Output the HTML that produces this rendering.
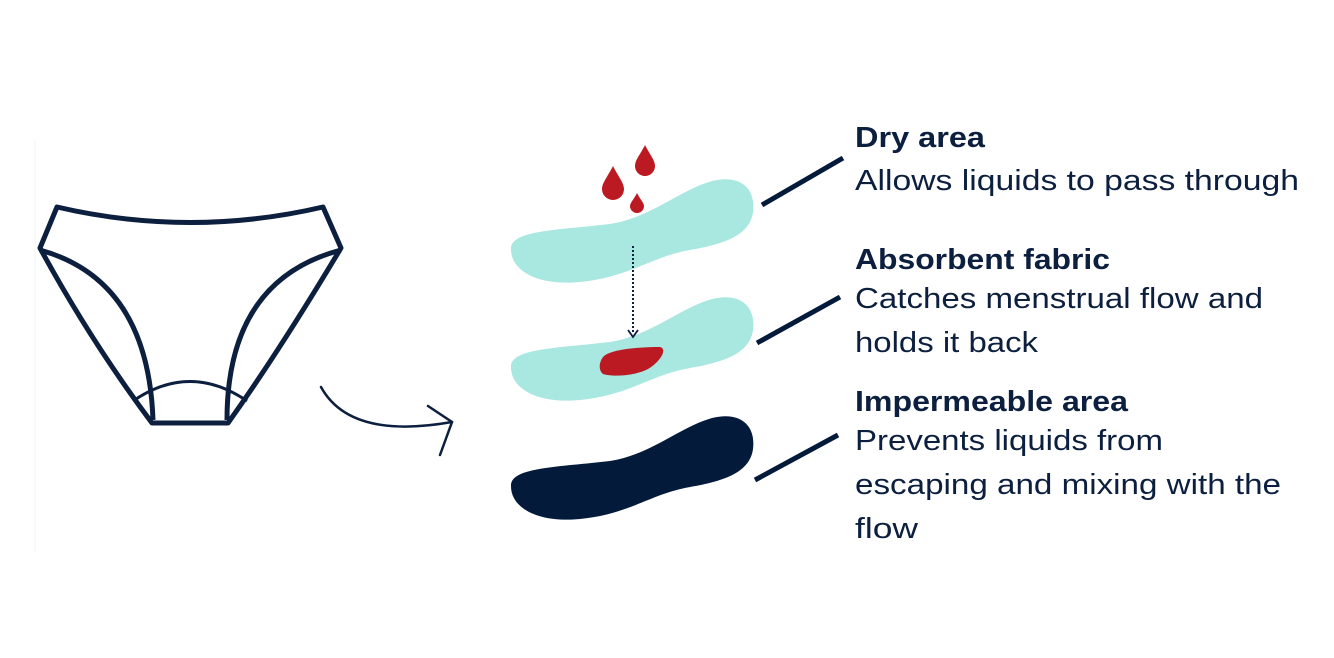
<!DOCTYPE html>
<html><head><meta charset="utf-8"><style>
html,body{margin:0;padding:0;background:#fff;}
svg{display:block}
text{font-family:"Liberation Sans",sans-serif;fill:#0c1f3f;font-size:29px}
.b{font-weight:bold}
</style></head><body>
<svg width="1334" height="658" viewBox="0 0 1334 658" xmlns="http://www.w3.org/2000/svg">
<rect width="1334" height="658" fill="#fff"/>
<line x1="35" y1="140" x2="35" y2="552" stroke="#f3f8f8" stroke-width="1.5"/>
<g fill="none" stroke="#0c1f3f" stroke-width="5" stroke-linejoin="round">
<path d="M57,207 Q190,238 323,207 L341,248 Q280,350 228,423 L152,423 Q90,340 40,248 Z"/>
<path d="M40,250 Q148,280 153,420"/>
<path d="M341,250 Q227,280 227,420"/>
<path d="M133,401 Q190,362 247,401" stroke-width="3"/>
</g>
<g fill="none" stroke="#0c1f3f" stroke-width="2.5" stroke-linecap="round">
<path d="M321,387 Q350,440 452,422"/>
<path d="M428,406 L452,422 L440,455"/>
</g>
<defs>
<path id="pad" d="M511,248 C512,230 560,230 610,224 C650,218 680,190 712,181 C740,174 756,188 753,212 C750,235 725,244 690,250 C650,257 630,277 580,282 C540,286 510,272 511,248 Z"/>
</defs>
<use href="#pad" fill="#a9e7e1"/>
<use href="#pad" fill="#a9e7e1" transform="translate(0,118)"/>
<use href="#pad" fill="#041a3b" transform="translate(0,237)"/>
<path d="M604,356 C612,349 640,347 660,347 C668,349 660,362 648,369 C635,376 612,377 603,374 C598,370 599,361 604,356 Z" fill="#bb1a22"/>
<g fill="#bb1a22">
<path d="M613,166 C618,176 624,183 624,189 A11,11 0 0 1 602,189 C602,183 608,176 613,166 Z"/>
<path d="M645,145 C650,155 655,160 655,166 A10,10 0 0 1 635,166 C635,160 640,155 645,145 Z"/>
<path d="M637,193 C640,199 644,203 644,206 A7,7 0 0 1 630,206 C630,203 634,199 637,193 Z"/>
</g>
<line x1="633" y1="246" x2="633" y2="333" stroke="#0c1f3f" stroke-width="2" stroke-dasharray="2,2"/>
<path d="M628,330 L633,337 L638,330" fill="none" stroke="#0c1f3f" stroke-width="1.8"/>
<g stroke="#041a3b" stroke-width="5">
<line x1="762" y1="205" x2="843" y2="158"/>
<line x1="757" y1="343" x2="840" y2="297"/>
<line x1="755" y1="480" x2="838" y2="435"/>
</g>
<text class="b" x="855" y="147" textLength="130" lengthAdjust="spacingAndGlyphs">Dry area</text>
<text x="855" y="190" textLength="444" lengthAdjust="spacingAndGlyphs">Allows liquids to pass through</text>
<text class="b" x="855" y="269" textLength="255" lengthAdjust="spacingAndGlyphs">Absorbent fabric</text>
<text x="855" y="308" textLength="408" lengthAdjust="spacingAndGlyphs">Catches menstrual flow and</text>
<text x="855" y="352" textLength="183" lengthAdjust="spacingAndGlyphs">holds it back</text>
<text class="b" x="855" y="411" textLength="273" lengthAdjust="spacingAndGlyphs">Impermeable area</text>
<text x="855" y="450" textLength="308" lengthAdjust="spacingAndGlyphs">Prevents liquids from</text>
<text x="855" y="494" textLength="426" lengthAdjust="spacingAndGlyphs">escaping and mixing with the</text>
<text x="855" y="538" textLength="63" lengthAdjust="spacingAndGlyphs">flow</text>
</svg>
</body></html>
